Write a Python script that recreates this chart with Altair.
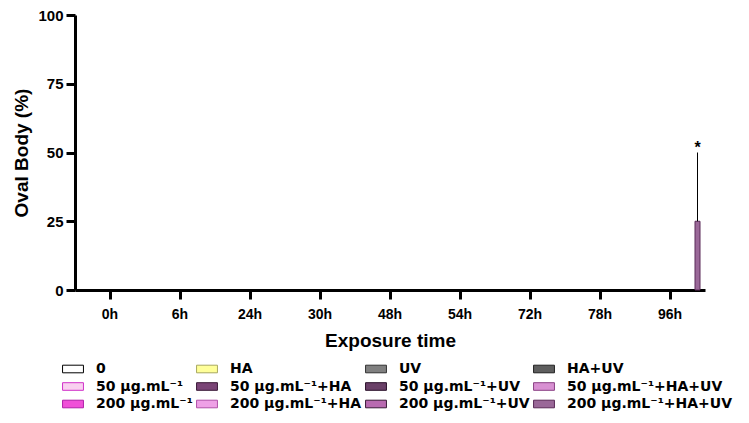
import altair as alt
import pandas as pd

# ---- data -------------------------------------------------------------
times = ["0h", "6h", "24h", "30h", "48h", "54h", "72h", "78h", "96h"]

groups = [
    "0", "50 µg.mL⁻¹", "200 µg.mL⁻¹",
    "HA", "50 µg.mL⁻¹+HA", "200 µg.mL⁻¹+HA",
    "UV", "50 µg.mL⁻¹+UV", "200 µg.mL⁻¹+UV",
    "HA+UV", "50 µg.mL⁻¹+HA+UV", "200 µg.mL⁻¹+HA+UV",
]

# oval body (%) per time point, one value per group (order as in `groups`)
oval_0h  = [0, 0, 0, 0, 0, 0, 0, 0, 0, 0, 0, 0]
oval_6h  = [0, 0, 0, 0, 0, 0, 0, 0, 0, 0, 0, 0]
oval_24h = [0, 0, 0, 0, 0, 0, 0, 0, 0, 0, 0, 0]
oval_30h = [0, 0, 0, 0, 0, 0, 0, 0, 0, 0, 0, 0]
oval_48h = [0, 0, 0, 0, 0, 0, 0, 0, 0, 0, 0, 0]
oval_54h = [0, 0, 0, 0, 0, 0, 0, 0, 0, 0, 0, 0]
oval_72h = [0, 0, 0, 0, 0, 0, 0, 0, 0, 0, 0, 0]
oval_78h = [0, 0, 0, 0, 0, 0, 0, 0, 0, 0, 0, 0]
oval_96h = [0, 0, 0, 0, 0, 0, 0, 0, 0, 0, 0, 25]

# error (upper) at 96h
err_96h = [0, 0, 0, 0, 0, 0, 0, 0, 0, 0, 0, 25]
signif_96h = ["", "", "", "", "", "", "", "", "", "", "", "*"]

fills = ["#ffffff", "#f9d0f0", "#f050d8",
         "#ffff99", "#7a4476", "#eea0e6",
         "#808080", "#6a4068", "#b86ab0",
         "#5e5e5e", "#d890d2", "#9a6898"]
strokes = ["#000000", "#d030c8", "#b020a8",
           "#a8a860", "#3a1a38", "#b050a8",
           "#333333", "#2a102a", "#3a1a38",
           "#222222", "#8a4084", "#5a2a58"]

# ---- table ------------------------------------------------------------
series = [oval_0h, oval_6h, oval_24h, oval_30h, oval_48h, oval_54h,
          oval_72h, oval_78h, oval_96h]
rows = []
for t, vals in zip(times, series):
    for g, v in zip(groups, vals):
        rows.append({"time": t, "group": g, "value": v})
df = pd.DataFrame(rows)

err_rows = []
for g, v, e, s in zip(groups, oval_96h, err_96h, signif_96h):
    if e > 0:
        err_rows.append({"time": "96h", "group": g, "value": v,
                         "upper": v + e, "sig": s})
df_err = pd.DataFrame(err_rows)

FONT = "Liberation Sans"
LEGEND_FONT = "DejaVu Sans"

x_enc = alt.X("time:N", sort=times,
              scale=alt.Scale(domain=times, paddingInner=0, paddingOuter=0),
              axis=alt.Axis(title="Exposure time", labelAngle=0,
                            bandPosition=0.5, tickSize=9, tickWidth=3,
                            domainWidth=3, domainColor="black",
                            tickColor="black", labelFont=FONT,
                            labelFontSize=14, labelFontWeight="bold",
                            labelColor="black", labelPadding=8,
                            titleFont=FONT, titleFontSize=19,
                            titleFontWeight="bold", titleColor="black",
                            titlePadding=10))
xoff_enc = alt.XOffset("group:N",
                       scale=alt.Scale(domain=groups, paddingInner=0,
                                       paddingOuter=1))
y_scale = alt.Scale(domain=[0, 100])

bars = alt.Chart(df).mark_bar(strokeWidth=1).encode(
    x=x_enc,
    xOffset=xoff_enc,
    y=alt.Y("value:Q", scale=y_scale,
            axis=alt.Axis(title="Oval Body (%)", values=[0, 25, 50, 75, 100],
                          grid=False, tickSize=9, tickWidth=3, domainWidth=3,
                          domainColor="black", tickColor="black",
                          labelFont=FONT, labelFontSize=15,
                          labelFontWeight="bold", labelColor="black",
                          labelPadding=3, titleFont=FONT, titleFontSize=19,
                          titleFontWeight="bold", titleColor="black",
                          titlePadding=6)),
    fill=alt.Fill("group:N",
                  scale=alt.Scale(domain=groups, range=fills),
                  legend=alt.Legend(title=None)),
    stroke=alt.Stroke("group:N",
                      scale=alt.Scale(domain=groups, range=strokes),
                      legend=alt.Legend(title=None)),
    strokeOpacity=alt.condition("datum.value > 0", alt.value(1), alt.value(0)),
)

err = alt.Chart(df_err).mark_rule(color="black", strokeWidth=1).encode(
    x=alt.X("time:N", sort=times), xOffset=xoff_enc,
    y=alt.Y("value:Q", scale=y_scale), y2="upper:Q",
)

star = alt.Chart(df_err).mark_text(font=FONT, fontSize=16, fontWeight="bold",
                                   color="black", baseline="alphabetic",
                                   dy=0).encode(
    x=alt.X("time:N", sort=times), xOffset=xoff_enc,
    y=alt.Y("upper:Q", scale=y_scale), text="sig:N",
)

chart = alt.layer(bars, err, star).properties(
    width=630, height=275,
    autosize=alt.AutoSizeParams(type="none"),
    padding={"left": 67, "top": 7, "right": 36, "bottom": 125},
).configure_view(stroke=None).configure_legend(
    orient="none", legendX=-12, legendY=344, columns=4,
    symbolType="M-1.1,-0.4H1.1V0.4H-1.1Z", symbolSize=361,
    symbolStrokeWidth=1, symbolOpacity=1,
    labelFont=LEGEND_FONT, labelFontSize=14, labelFontWeight="bold",
    labelColor="black", labelOffset=13, rowPadding=0.5, columnPadding=1,
    labelLimit=300,
)

chart.save("out.html", embed_options={"renderer": "svg", "actions": False})
